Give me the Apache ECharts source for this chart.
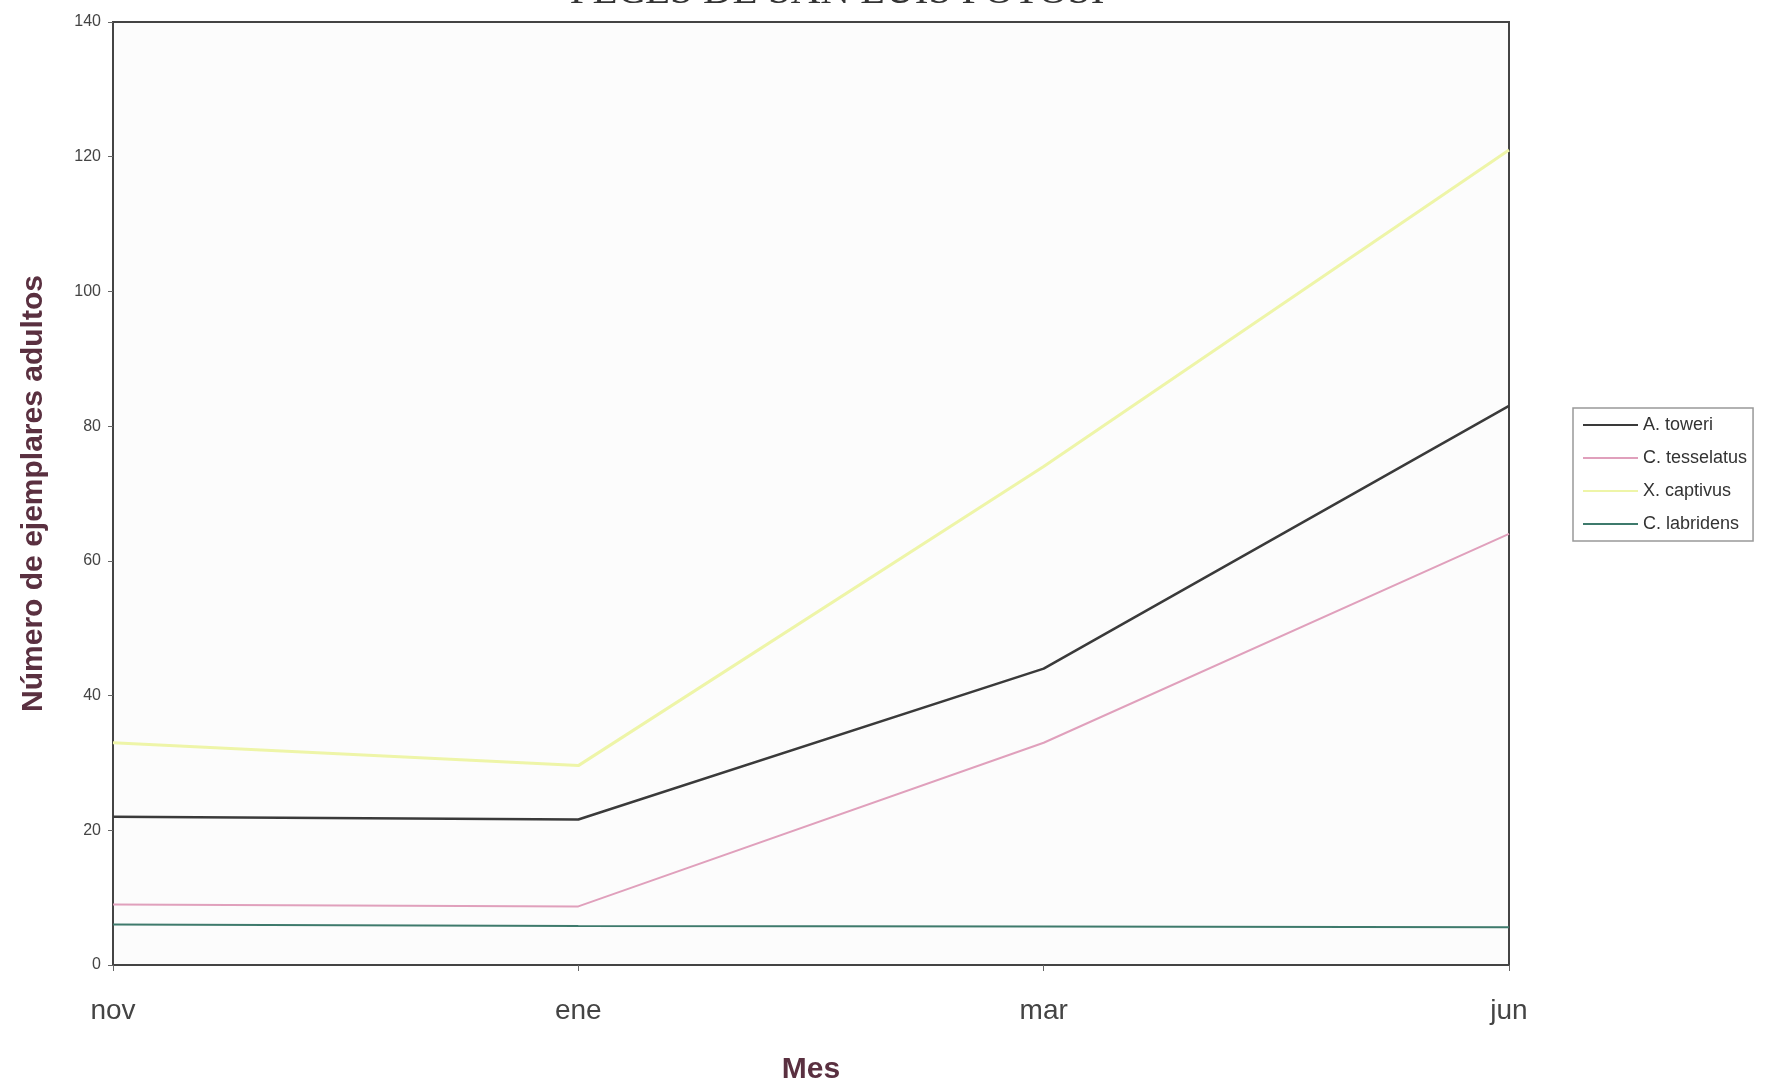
<!DOCTYPE html>
<html><head><meta charset="utf-8">
<script src="https://cdn.jsdelivr.net/npm/echarts@6/dist/echarts.min.js"></script>
<style>html,body{margin:0;padding:0;background:#fff}#c{width:1768px;height:1091px}</style>
</head><body><div id="c"></div>
<script>
const months = ['nov', 'ene', 'mar', 'jun'];
const toweri = [22, 21.6, 44, 83];
const tesselatus = [9, 8.7, 33, 64];
const captivus = [33, 29.6, 74, 121];
const labridens = [6, 5.8, 5.7, 5.6];
const yTicks = { min: 0, max: 140, interval: 20 };

const chart = echarts.init(document.getElementById('c'));
const mk = (name, data, color, width) => ({
  name, type: 'line', data, symbol: 'none', showSymbol: false,
  lineStyle: { color, width }, itemStyle: { color }
});
chart.setOption({
  animation: false,
  backgroundColor: '#ffffff',
  title: {
    text: 'PECES DE SAN LUIS POTOSI', left: 832, textAlign: 'center', top: -33,
    textStyle: { fontFamily: 'Liberation Serif', fontSize: 41, fontWeight: 'normal', color: '#333' }
  },
  grid: { left: 113, right: 259, top: 22, bottom: 126, show: true, backgroundColor: '#fcfcfc', borderColor: '#444', borderWidth: 2 },
  legend: {
    orient: 'vertical', left: 1573, top: 408,
    icon: 'rect',
    itemWidth: 55, itemHeight: 2, itemGap: 15,
    padding: [8, 6, 8, 10],
    borderColor: '#999', borderWidth: 1.5, backgroundColor: '#fff',
    textStyle: { fontFamily: 'Liberation Sans', fontSize: 18, color: '#333' },
    data: ['A. toweri', 'C. tesselatus', 'X. captivus', 'C. labridens']
  },
  xAxis: {
    type: 'category', data: months, boundaryGap: false,
    name: 'Mes', nameLocation: 'middle', nameGap: 90,
    nameTextStyle: { fontFamily: 'Liberation Sans', fontSize: 30, fontWeight: 'bold', color: '#5a3040' },
    axisLine: { lineStyle: { color: '#444', width: 2 } },
    axisTick: { show: true, length: 6, lineStyle: { color: '#666' } },
    axisLabel: { fontFamily: 'Liberation Sans', fontSize: 28, color: '#444', margin: 32 }
  },
  yAxis: {
    type: 'value', min: yTicks.min, max: yTicks.max, interval: yTicks.interval,
    name: 'Número de ejemplares adultos', nameLocation: 'middle', nameGap: 64, nameRotate: 90,
    nameTextStyle: { fontFamily: 'Liberation Sans', fontSize: 30, fontWeight: 'bold', color: '#5a3040' },
    axisLine: { show: true, lineStyle: { color: '#444', width: 2 } },
    axisTick: { show: true, length: 5, lineStyle: { color: '#666' } },
    splitLine: { show: false },
    axisLabel: { fontFamily: 'Liberation Sans', fontSize: 16, color: '#444', margin: 12 }
  },
  series: [
    mk('A. toweri', toweri, '#3a3a3a', 2.5),
    mk('C. tesselatus', tesselatus, '#e0a0bc', 2),
    mk('X. captivus', captivus, '#eef5a8', 3),
    mk('C. labridens', labridens, '#3e7a6c', 2)
  ]
});
</script></body></html>
